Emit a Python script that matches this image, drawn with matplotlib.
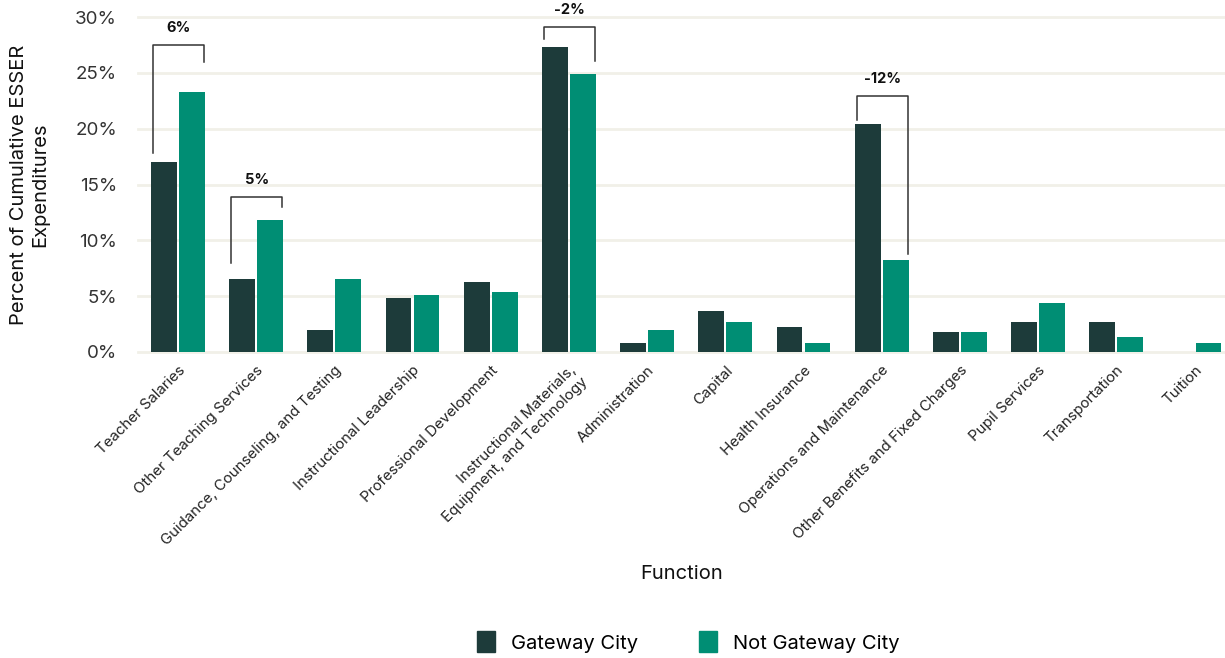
import numpy as np
from matplotlib import pyplot as plt
from matplotlib.patches import Patch

plt.rcParams['font.family'] = ['Inter', 'DejaVu Sans']

###################
# Data (percent of cumulative ESSER expenditures)
functions = ['Teacher Salaries', 'Other Teaching Services',
             'Guidance, Counseling, and Testing', 'Instructional Leadership',
             'Professional Development',
             'Instructional Materials,\nEquipment, and Technology',
             'Administration', 'Capital', 'Health Insurance',
             'Operations and Maintenance', 'Other Benefits and Fixed Charges',
             'Pupil Services', 'Transportation', 'Tuition']
gateway = [17.0, 6.5, 2.0, 4.8, 6.3, 27.3, 0.8, 3.7, 2.2, 20.4, 1.8, 2.7, 2.7, 0.0]
not_gateway = [23.3, 11.8, 6.5, 5.1, 5.4, 24.9, 2.0, 2.7, 0.8, 8.2, 1.8, 4.4, 1.3, 0.8]

# Difference brackets: category index, label
diff_idx = [0, 1, 5, 9]
diff_labels = ['6%', '5%', '-2%', '-12%']
# bracket top, left arm end, right arm end (in % units)
bracket_top = [27.5, 13.9, 29.1, 22.9]
bracket_left = [17.8, 8.0, 28.0, 20.8]
bracket_right = [26.0, 13.0, 26.05, 8.8]

c_dark = '#1d3b3a'
c_green = '#008e74'

###################
fig = plt.figure(figsize=(12.25, 6.58), dpi=100)
ax = fig.add_axes([138/1225, 1-352/658, 1-138/1225, 335/658])

x = np.arange(len(functions))
w = 0.33
off = 0.18
ax.bar(x-off, gateway, w, color=c_dark, zorder=3)
ax.bar(x+off, not_gateway, w, color=c_green, zorder=3)

ax.set_xlim(-0.51, 13.39)
ax.set_ylim(0, 30)
ax.set_yticks(np.arange(0, 31, 5))
ax.set_yticklabels([f'{v}%' for v in range(0, 31, 5)], fontsize=13.5, color='#333333')
ax.yaxis.grid(True, color='#f1f0e8', linewidth=2, zorder=0)
for gl in ax.get_ygridlines():
    gl.set_clip_on(False)
ax.set_axisbelow(True)
for s in ax.spines.values():
    s.set_visible(False)
ax.tick_params(axis='both', length=0)
ax.tick_params(axis='y', pad=15)
ax.tick_params(axis='x', pad=8)

ax.set_xticks(x)
ax.set_xticklabels(functions, rotation=45, ha='right', rotation_mode='anchor',
                   fontsize=10.8, color='#222222')

ax.set_ylabel('Percent of Cumulative ESSER\nExpenditures', fontsize=14.5, color='#111111',
              labelpad=19)
ax.set_xlabel('Function', fontsize=14.5, color='#111111', labelpad=12)

# Brackets
for k, i in enumerate(diff_idx):
    xl = i - off - w/2 + 0.03
    xr = i + off + w/2 - 0.01
    ax.plot([xl, xl, xr, xr], [bracket_left[k], bracket_top[k], bracket_top[k], bracket_right[k]],
            color='#333333', linewidth=1.1, zorder=4, clip_on=False)
    ax.text((xl+xr)/2, bracket_top[k]+0.9, diff_labels[k], ha='center', va='bottom',
            fontsize=10.5, fontweight='bold', color='#111111')

handles = [Patch(color=c_dark, label='Gateway City'),
           Patch(color=c_green, label='Not Gateway City')]
fig.legend(handles=handles, loc='center', bbox_to_anchor=(0.562, 1-642/658),
           ncol=2, frameon=False, fontsize=14.5, handlelength=0.9, handleheight=1.2,
           columnspacing=3.0, handletextpad=0.8)

plt.savefig('out.png', dpi=100)
